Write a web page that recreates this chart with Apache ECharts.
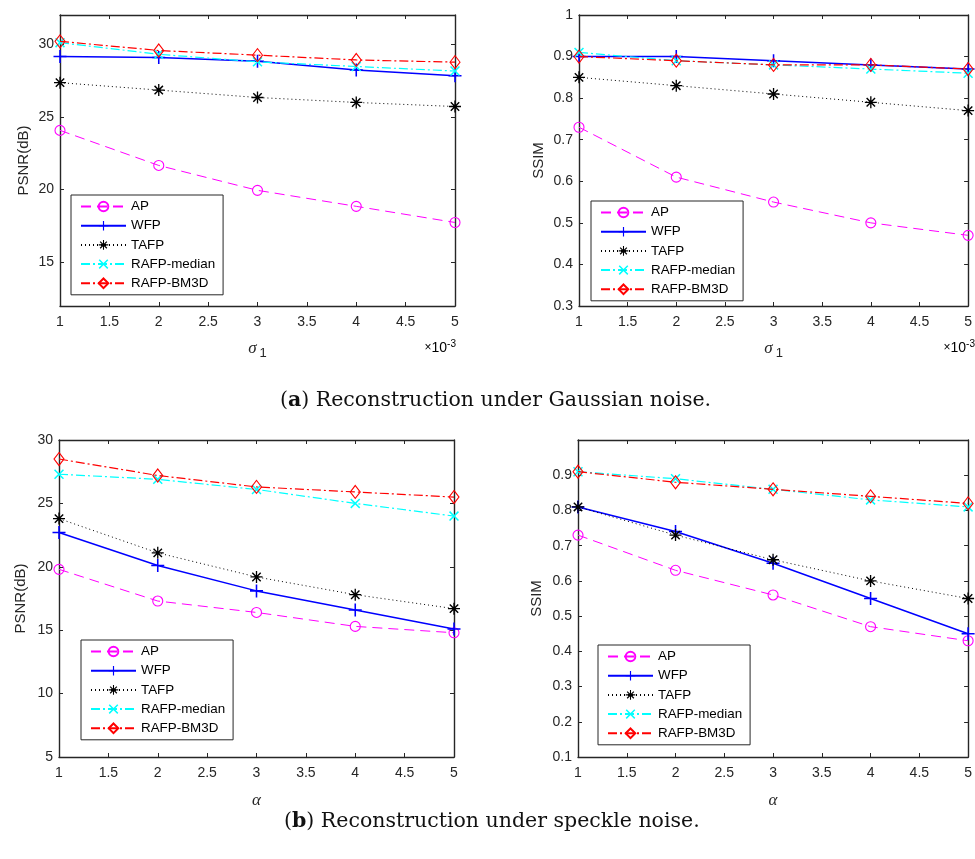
<!DOCTYPE html>
<html>
<head>
<meta charset="utf-8">
<script src="https://cdn.jsdelivr.net/npm/echarts@6/dist/echarts.min.js"></script>
<style>
  html, body { margin: 0; padding: 0; background: #fff; }
  #chart { width: 975px; height: 859px; }
</style>
</head>
<body>
<div id="chart"></div>
<script>
// x positions shared by all four panels
const xValues = [1, 2, 3, 4, 5]
const seriesNames = ['AP', 'WFP', 'TAFP', 'RAFP-median', 'RAFP-BM3D']

// (a) Gaussian noise, PSNR (dB) — order: AP, WFP, TAFP, RAFP-median, RAFP-BM3D
const gaussPsnr = [
  [24.07, 21.66, 19.95, 18.85, 17.74],
  [29.15, 29.08, 28.82, 28.22, 27.83],
  [27.35, 26.84, 26.33, 25.99, 25.71],
  [30.10, 29.30, 28.78, 28.46, 28.15],
  [30.19, 29.56, 29.24, 28.91, 28.76]
]
// (a) Gaussian noise, SSIM
const gaussSsim = [
  [0.73, 0.61, 0.55, 0.50, 0.47],
  [0.90, 0.90, 0.89, 0.88, 0.87],
  [0.85, 0.83, 0.81, 0.79, 0.77],
  [0.91, 0.89, 0.88, 0.87, 0.86],
  [0.90, 0.89, 0.88, 0.88, 0.87]
]
// (b) speckle noise, PSNR (dB)
const specklePsnr = [
  [19.8, 17.3, 16.4, 15.3, 14.8],
  [22.7, 20.1, 18.1, 16.6, 15.1],
  [23.8, 21.1, 19.2, 17.8, 16.7],
  [27.3, 26.9, 26.1, 25.0, 24.0],
  [28.5, 27.2, 26.3, 25.9, 25.5]
]
// (b) speckle noise, SSIM
const speckleSsim = [
  [0.73, 0.63, 0.56, 0.47, 0.43],
  [0.81, 0.74, 0.65, 0.55, 0.45],
  [0.81, 0.73, 0.66, 0.60, 0.55],
  [0.91, 0.89, 0.86, 0.83, 0.81],
  [0.91, 0.88, 0.86, 0.84, 0.82]
]

const gaussPsnrTicks = [15, 20, 25, 30]
const gaussSsimTicks = [0.3, 0.4, 0.5, 0.6, 0.7, 0.8, 0.9, 1]
const specklePsnrTicks = [5, 10, 15, 20, 25, 30]
const speckleSsimTicks = [0.1, 0.2, 0.3, 0.4, 0.5, 0.6, 0.7, 0.8, 0.9]

const ink = '#262626'
const sans = 'Liberation Sans'

// marker shapes (MATLAB style)
const plusPath = 'path://M4.4,0H5.6V10H4.4Z M0,4.4H10V5.6H0Z'
const starPath = 'path://M4.45,0H5.55V10H4.45Z M0,4.45H10V5.55H0Z ' +
  'M1.92,1.08L8.92,8.08L8.08,8.92L1.08,1.92Z M8.08,1.08L8.92,1.92L1.92,8.92L1.08,8.08Z'
const crossPath = 'path://M1.92,1.08L8.92,8.08L8.08,8.92L1.08,1.92Z M8.08,1.08L8.92,1.92L1.92,8.92L1.08,8.08Z'

const styles = [
  { color: '#ff00ff', type: [10, 6], width: 1, symbol: 'circle', size: 10, hollow: true },
  { color: '#0000ff', type: 'solid', width: 1.5, symbol: plusPath, size: 13, hollow: false },
  { color: '#000000', type: [1, 3], width: 1, symbol: starPath, size: 12, hollow: false },
  { color: '#00ffff', type: [9, 3, 2, 3], width: 1.2, symbol: crossPath, size: 10, hollow: false },
  { color: '#ff0000', type: [9, 3, 2, 3], width: 1.2, symbol: 'diamond', size: [10, 13], hollow: true }
]

const panels = [
  { grid: { left: 60, top: 15, width: 395, height: 291 }, data: gaussPsnr, yMin: 12, yMax: 32, yTicks: gaussPsnrTicks,
    yName: 'PSNR(dB)', yGap: 29, xName: 'sigma', xGap: 31, legend: { left: 71, top: 195 } },
  { grid: { left: 579, top: 15, width: 394, height: 291 }, data: gaussSsim, yMin: 0.3, yMax: 1, yTicks: gaussSsimTicks,
    yName: 'SSIM', yGap: 33, xName: 'sigma', xGap: 31, legend: { left: 591, top: 201 } },
  { grid: { left: 59, top: 440, width: 395, height: 317 }, data: specklePsnr, yMin: 5, yMax: 30, yTicks: specklePsnrTicks,
    yName: 'PSNR(dB)', yGap: 31, xName: 'alpha', xGap: 35, legend: { left: 81, top: 640 } },
  { grid: { left: 578, top: 440, width: 395, height: 317 }, data: speckleSsim, yMin: 0.1, yMax: 1, yTicks: speckleSsimTicks,
    yName: 'SSIM', yGap: 34, xName: 'alpha', xGap: 35, legend: { left: 598, top: 645 } }
]

const lineAxis = { show: true, onZero: false, lineStyle: { color: ink, width: 1.4 } }
const tickStyle = { color: ink, width: 1 }
const labelFont = { fontFamily: sans, fontSize: 14, color: ink }

const xNames = {
  sigma: { text: '{g|σ}{s|1}', rich: { g: { fontFamily: 'Liberation Serif', fontStyle: 'italic', fontSize: 17, color: ink },
    s: { fontFamily: sans, fontSize: 13, color: ink, padding: [10, 0, 0, 3] } } },
  alpha: { text: '{g|α}', rich: { g: { fontFamily: 'Liberation Serif', fontStyle: 'italic', fontSize: 17, color: ink } } }
}

const grids = []
const xAxes = []
const yAxes = []
const series = []
const legends = []

panels.forEach((p, k) => {
  grids.push(Object.assign({ show: false, containLabel: false }, p.grid))
  const xn = xNames[p.xName]
  xAxes.push({
    type: 'value', gridIndex: k, position: 'bottom', min: 1, max: 5, interval: 0.5,
    axisLine: lineAxis, splitLine: { show: false },
    axisTick: { inside: true, length: 4, lineStyle: tickStyle },
    axisLabel: Object.assign({ margin: 9 }, labelFont),
    name: xn.text, nameLocation: 'middle', nameGap: p.xGap, nameTextStyle: { rich: xn.rich }
  })
  xAxes.push({
    type: 'value', gridIndex: k, position: 'top', min: 1, max: 5, interval: 0.5,
    axisLine: lineAxis, splitLine: { show: false },
    axisTick: { inside: true, length: 4, lineStyle: tickStyle },
    axisLabel: { show: false }
  })
  yAxes.push({
    type: 'value', gridIndex: k, position: 'left', min: p.yMin, max: p.yMax,
    axisLine: lineAxis, splitLine: { show: false },
    axisTick: { inside: true, length: 4, lineStyle: tickStyle, customValues: p.yTicks },
    axisLabel: Object.assign({ margin: 6, customValues: p.yTicks }, labelFont),
    name: p.yName, nameLocation: 'middle', nameGap: p.yGap,
    nameTextStyle: { fontFamily: sans, fontSize: 15, color: ink }
  })
  yAxes.push({
    type: 'value', gridIndex: k, position: 'right', min: p.yMin, max: p.yMax,
    axisLine: lineAxis, splitLine: { show: false },
    axisTick: { inside: true, length: 4, lineStyle: tickStyle, customValues: p.yTicks },
    axisLabel: { show: false }
  })

  p.data.forEach((vals, j) => {
    const st = styles[j]
    series.push({
      type: 'line', name: seriesNames[j],
      xAxisIndex: 2 * k, yAxisIndex: 2 * k,
      data: xValues.map((x, i) => [x, vals[i]]),
      symbol: st.symbol, symbolSize: st.size, showAllSymbol: true,
      lineStyle: { color: st.color, type: st.type, width: st.width },
      itemStyle: st.hollow
        ? { color: 'rgba(255,255,255,0)', borderColor: st.color, borderWidth: 1.1 }
        : { color: st.color, borderWidth: 0 },
      emphasis: { disabled: true },
      animation: false, z: 3 + j
    })
  })

  legends.push({
    left: p.legend.left, top: p.legend.top, orient: 'vertical',
    data: seriesNames, itemWidth: 45, itemHeight: 12, itemGap: 6.2,
    padding: [5, 8, 5, 9], backgroundColor: '#fff',
    borderColor: ink, borderWidth: 1, borderRadius: 0,
    selectedMode: false,
    textStyle: { fontFamily: sans, fontSize: 13.4, color: '#000', padding: [0, 0, 0, 0] },
    z: 10
  })
})

const captionFont = 'DejaVu Serif'
const captionRich = {
  p: { fontFamily: captionFont, fontSize: 20.5, fontWeight: 'normal', color: '#111' },
  b: { fontFamily: captionFont, fontSize: 20.5, fontWeight: 'bold', color: '#111' }
}

const powerRich = {
  a: { fontFamily: sans, fontSize: 12, color: ink },
  b: { fontFamily: sans, fontSize: 14, color: ink },
  c: { fontFamily: sans, fontSize: 10, color: ink, padding: [0, 0, 8, 0] }
}

const chart = echarts.init(document.getElementById('chart'), null, { renderer: 'canvas' })
chart.setOption({
  animation: false,
  backgroundColor: '#fff',
  grid: grids,
  xAxis: xAxes,
  yAxis: yAxes,
  legend: legends,
  series: series,
  title: [
    { text: '{p|(}{b|a}{p|) Reconstruction under Gaussian noise.}', left: 280, top: 390, padding: 0,
      textStyle: { fontWeight: 'normal', rich: captionRich } },
    { text: '{p|(}{b|b}{p|) Reconstruction under speckle noise.}', left: 284, top: 811, padding: 0,
      textStyle: { fontWeight: 'normal', rich: captionRich } }
  ],
  graphic: [
    { type: 'text', right: 975 - 456, top: 339, style: { text: '{a|×}{b|10}{c|-3}', rich: powerRich } },
    { type: 'text', right: 0, top: 339, style: { text: '{a|×}{b|10}{c|-3}', rich: powerRich } }
  ]
})
</script>
</body>
</html>
